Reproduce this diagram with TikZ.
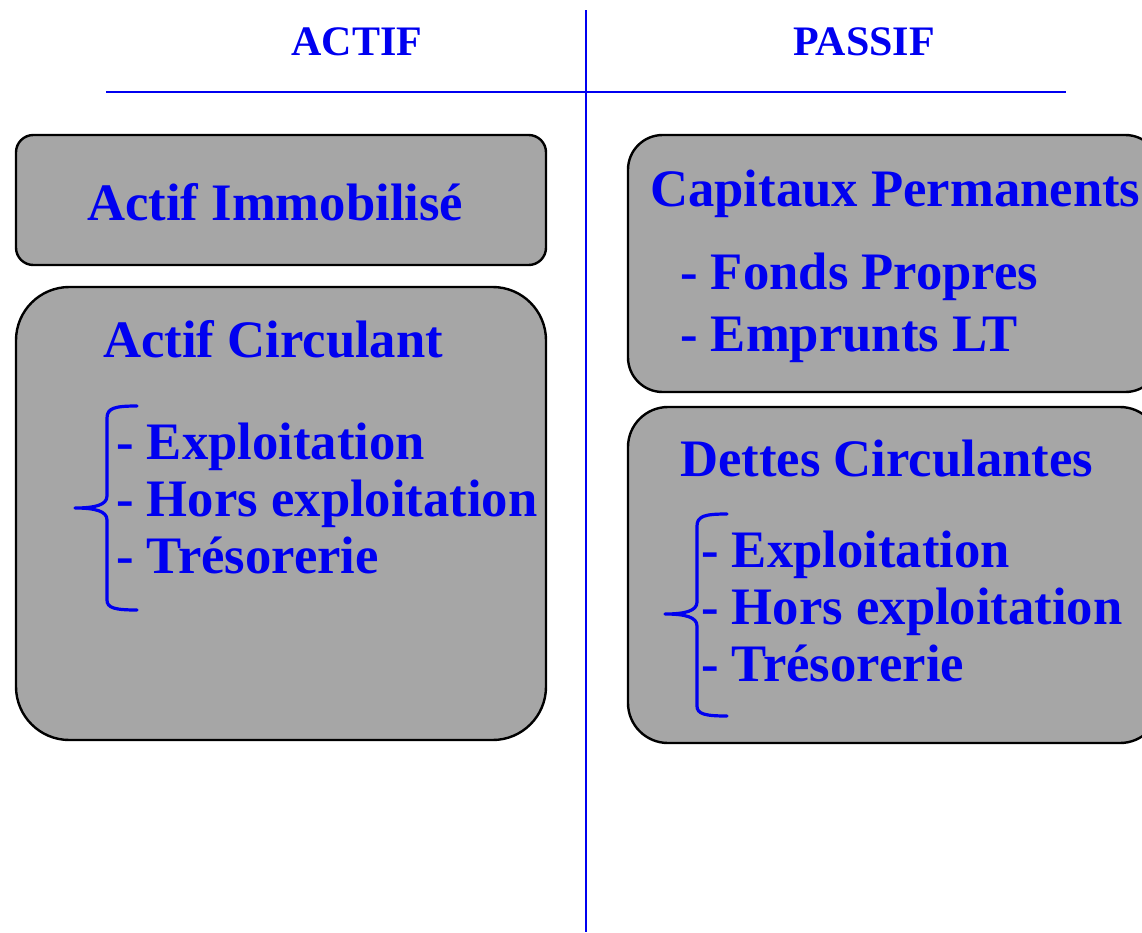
\documentclass[tikz,border=0pt]{standalone}
\usepackage{fontspec}
\setmainfont{Liberation Serif}
\usepackage{tikz}

\definecolor{bilanblue}{RGB}{0,0,240}
\definecolor{bilangray}{RGB}{166,166,166}

\tikzset{
  posteBox/.style={draw=black, line width=1.8pt, fill=bilangray},
  sepLine/.style={draw=bilanblue, line width=2pt},
  bracket/.style={draw=bilanblue, line width=2.4pt, line cap=round, line join=round},
  titre/.style={text=bilanblue, font=\bfseries\fontsize{31.5}{36}\selectfont},
  poste/.style={text=bilanblue, font=\bfseries\fontsize{39.5}{46}\selectfont, anchor=base west, inner sep=0pt}
}

\begin{document}
\begin{tikzpicture}[x=0.75pt, y=-0.75pt]
    \useasboundingbox (0,0) rectangle (1142,932);
    \clip (0,0) rectangle (1142,932);
    % Separation lines
    \draw[sepLine] (586,10) -- (586,932);
    \draw[sepLine] (106,92) -- (1066,92);
    \node[titre] (actif) at (357,42) {ACTIF};
    \node[titre] (passif) at (864,42) {PASSIF};
    % Actif side
    \draw[posteBox, rounded corners=13pt] (16,135) rectangle (546,265);
    \draw[posteBox, rounded corners=40pt] (16,287) rectangle (546,740);
    \node[poste] (immo) at (87,220) {Actif Immobilisé};
    \node[poste] (circ) at (103,357) {Actif Circulant};
    \node[poste] (aexp) at (116,459) {- Exploitation};
    \node[poste] (ahors) at (116,516) {- Hors exploitation};
    \node[poste] (atres) at (116,573) {- Trésorerie};
    \draw[bracket] (137,406) .. controls (115,406) and (107,408) .. (107,418)
        -- (107,496) .. controls (107,505) and (95,508) .. (75,508)
        .. controls (95,508) and (107,511) .. (107,520)
        -- (107,600) .. controls (107,608) and (115,610) .. (137,610);
    % Passif side
    \draw[posteBox, rounded corners=26pt] (628,135) rectangle (1160,392);
    \draw[posteBox, rounded corners=30pt] (628,407) rectangle (1160,743);
    \node[poste] (capi) at (650,206) {Capitaux Permanents};
    \node[poste] (fonds) at (680,289) {- Fonds Propres};
    \node[poste] (empr) at (680,351) {- Emprunts LT};
    \node[poste] (dettes) at (680,476) {Dettes Circulantes};
    \node[poste] (pexp) at (701,567) {- Exploitation};
    \node[poste] (phors) at (701,624) {- Hors exploitation};
    \node[poste] (ptres) at (701,681) {- Trésorerie};
    \draw[bracket] (727,514) .. controls (705,514) and (697,516) .. (697,526)
        -- (697,602) .. controls (697,611) and (685,614) .. (665,614)
        .. controls (685,614) and (697,617) .. (697,626)
        -- (697,706) .. controls (697,714) and (705,716) .. (727,716);
\end{tikzpicture}
\end{document}
